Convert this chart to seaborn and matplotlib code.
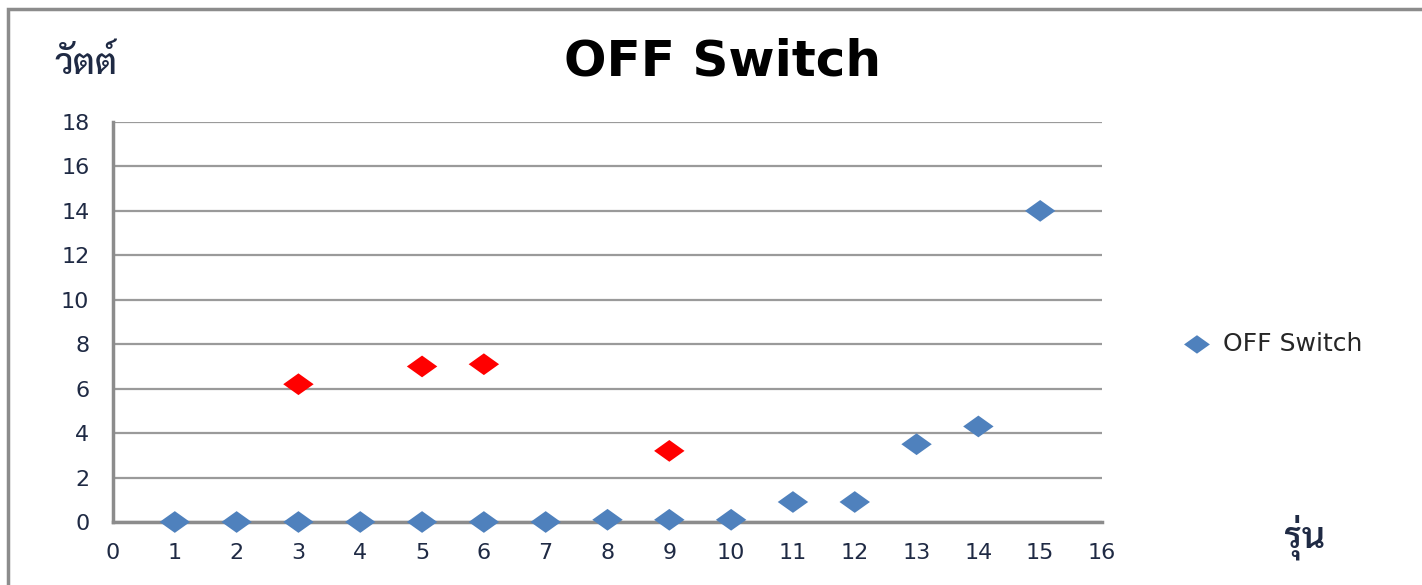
import matplotlib
matplotlib.use("Agg")
import matplotlib.pyplot as plt
import seaborn as sns
import pandas as pd
from matplotlib.patches import Rectangle

# data
rounds = [1, 2, 3, 4, 5, 6, 7, 8, 9, 10, 11, 12, 13, 14, 15]
watts = [0, 0, 0, 0, 0, 0, 0, 0.1, 0.1, 0.1, 0.9, 0.9, 3.5, 4.3, 14]
red_rounds = [3, 5, 6, 9]
red_watts = [6.2, 7.0, 7.1, 3.2]
yticks = list(range(0, 19, 2))
xticks = list(range(0, 17))

sns.set_style("white")
plt.rcParams['font.family'] = ['DejaVu Sans', 'Sarabun', 'Noto Sans']
thai_fam = ['Sarabun', 'IBM Plex Sans Thai Looped', 'DejaVu Sans']

df = pd.DataFrame({"round": rounds, "watt": watts})
df_red = pd.DataFrame({"round": red_rounds, "watt": red_watts})

fig = plt.figure(figsize=(14.22, 5.85), dpi=100)
ax = fig.add_axes([113 / 1422, 63 / 585, 989 / 1422, 400 / 585])

# frame around the chart
fig.patches.append(Rectangle((8 / 1422, -0.1), 1.2, 576 / 585 + 0.1, transform=fig.transFigure,
                             fill=False, edgecolor="#8c8c8c", linewidth=2.5))

diamond = [(-1.4, 0), (0, 1), (1.4, 0), (0, -1), (-1.4, 0)]
sns.scatterplot(data=df, x="round", y="watt", ax=ax, marker=diamond, s=480,
                color="#4F81BD", edgecolor="none", label="OFF Switch", zorder=5, clip_on=False)
sns.scatterplot(data=df_red, x="round", y="watt", ax=ax, marker=diamond, s=480,
                color="#FF0000", edgecolor="none", legend=False, zorder=5, clip_on=False)

ax.set_xlim(0, 16)
ax.set_ylim(0, 18)
ax.set_xticks(xticks)
ax.set_yticks(yticks)
ax.yaxis.grid(True, color="#9a9a9a", linewidth=1.6)
ax.set_axisbelow(True)
for s in ["top", "right"]:
    ax.spines[s].set_visible(False)
for s in ["left", "bottom"]:
    ax.spines[s].set_color("#8c8c8c")
    ax.spines[s].set_linewidth(2.5)
ax.tick_params(axis="y", length=11, width=1.6, color="#9a9a9a", labelsize=16, labelcolor="#1f2a44", pad=6)
ax.tick_params(axis="x", length=8, width=2, color="#8c8c8c", labelsize=16, labelcolor="#1f2a44", pad=7)
ax.set_xlabel("")
ax.set_ylabel("")

fig.text(0.508, 0.895, "OFF Switch", ha="center", va="center", fontsize=36, fontweight="bold", color="black")
fig.text(54 / 1422, 1 - 65 / 585, "วัตต์", ha="left", va="center", fontsize=26, fontweight="medium",
         color="#1f2a44", family=thai_fam)
fig.text(1284 / 1422, 1 - 537 / 585, "รุ่น", ha="left", va="center", fontsize=26, fontweight="semibold",
         color="#1f2a44", family=thai_fam)

ax.legend(loc="center left", bbox_to_anchor=(1.048, 0.445), frameon=False, fontsize=18,
          handletextpad=0.05, markerscale=0.85)

fig.savefig("out.png", dpi=100)
